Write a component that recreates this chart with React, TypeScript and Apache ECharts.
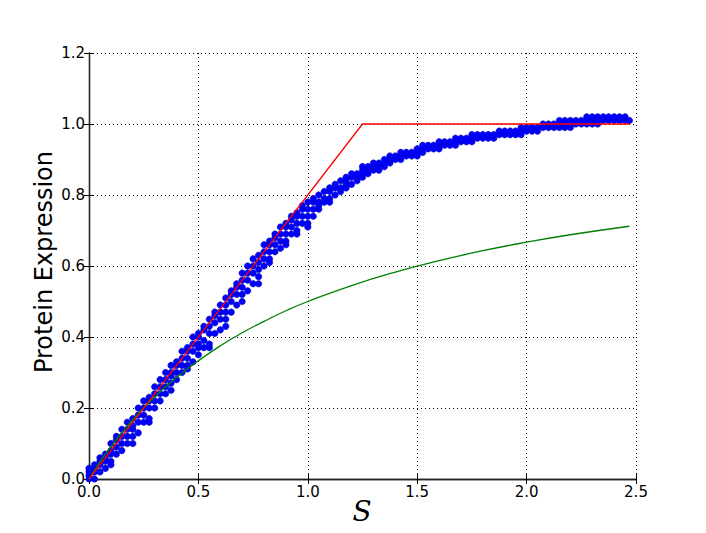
import React, { useEffect, useRef } from "react";
import * as echarts from "echarts";

// Measured points: S positions (columns) and protein-expression readings at each
const sVals = [
  0.0, 0.025, 0.05, 0.075, 0.1, 0.125, 0.15, 0.175, 0.2, 0.225,
  0.25, 0.275, 0.3, 0.325, 0.35, 0.375, 0.4, 0.425, 0.45, 0.475,
  0.5, 0.525, 0.55, 0.575, 0.6, 0.625, 0.65, 0.675, 0.7, 0.725,
  0.75, 0.775, 0.8, 0.825, 0.85, 0.875, 0.9, 0.925, 0.95, 0.975,
  1.0, 1.025, 1.05, 1.075, 1.1, 1.125, 1.15, 1.175, 1.2, 1.225,
  1.25, 1.275, 1.3, 1.325, 1.35, 1.375, 1.4, 1.425, 1.45, 1.475,
  1.5, 1.525, 1.55, 1.575, 1.6, 1.625, 1.65, 1.675, 1.7, 1.725,
  1.75, 1.775, 1.8, 1.825, 1.85, 1.875, 1.9, 1.925, 1.95, 1.975,
  2.0, 2.025, 2.05, 2.075, 2.1, 2.125, 2.15, 2.175, 2.2, 2.225,
  2.25, 2.275, 2.3, 2.325, 2.35, 2.375, 2.4, 2.425, 2.45, 2.47,
];

const ysByColumn = [
  [0.0, 0.01, 0.02, 0.03], [0.0, 0.02, 0.03, 0.04], [0.02, 0.04, 0.05, 0.06], [0.03, 0.05, 0.06, 0.07],
  [0.04, 0.05, 0.07, 0.08, 0.1], [0.07, 0.09, 0.11, 0.12], [0.08, 0.1, 0.12, 0.14], [0.1, 0.12, 0.14, 0.16],
  [0.1, 0.12, 0.14, 0.15, 0.17], [0.13, 0.16, 0.18, 0.2], [0.16, 0.18, 0.2, 0.22], [0.16, 0.17, 0.2, 0.22, 0.23],
  [0.2, 0.22, 0.24, 0.26], [0.22, 0.24, 0.26, 0.28], [0.24, 0.26, 0.28, 0.3], [0.25, 0.27, 0.29, 0.3, 0.32],
  [0.28, 0.3, 0.32, 0.33], [0.3, 0.32, 0.34, 0.36], [0.31, 0.32, 0.34, 0.36, 0.37], [0.33, 0.36, 0.38, 0.4],
  [0.35, 0.37, 0.38, 0.4, 0.41], [0.37, 0.39, 0.42, 0.43], [0.37, 0.38, 0.41, 0.43, 0.45], [0.41, 0.44, 0.46, 0.47],
  [0.42, 0.45, 0.47, 0.49], [0.43, 0.45, 0.47, 0.49, 0.51], [0.47, 0.5, 0.52, 0.53], [0.49, 0.52, 0.54, 0.55],
  [0.5, 0.52, 0.54, 0.56, 0.58], [0.53, 0.56, 0.58, 0.6], [0.55, 0.58, 0.6, 0.62], [0.55, 0.57, 0.59, 0.61, 0.63],
  [0.6, 0.62, 0.64, 0.66], [0.61, 0.62, 0.64, 0.66, 0.67], [0.64, 0.66, 0.68, 0.69], [0.65, 0.67, 0.69, 0.71],
  [0.66, 0.67, 0.69, 0.71, 0.72], [0.69, 0.71, 0.73, 0.74], [0.69, 0.7, 0.72, 0.74, 0.75], [0.72, 0.74, 0.76, 0.77],
  [0.71, 0.72, 0.74, 0.76, 0.78], [0.74, 0.76, 0.78, 0.79], [0.76, 0.77, 0.78, 0.8], [0.78, 0.79, 0.81],
  [0.78, 0.79, 0.81, 0.82], [0.8, 0.82, 0.83], [0.81, 0.82, 0.84], [0.82, 0.83, 0.84, 0.85],
  [0.83, 0.85, 0.86], [0.84, 0.85, 0.86], [0.85, 0.86, 0.87, 0.88], [0.86, 0.87, 0.88],
  [0.87, 0.88, 0.89], [0.87, 0.88, 0.89], [0.88, 0.89, 0.9], [0.89, 0.9, 0.91],
  [0.9, 0.91], [0.9, 0.91, 0.92], [0.91, 0.92], [0.91, 0.92],
  [0.91, 0.92, 0.93], [0.92, 0.93, 0.94], [0.93, 0.94], [0.93, 0.94],
  [0.93, 0.94, 0.95], [0.94, 0.95], [0.94, 0.95], [0.94, 0.95, 0.96],
  [0.95, 0.96], [0.95, 0.96], [0.95, 0.96, 0.97], [0.96, 0.97],
  [0.96, 0.97], [0.96, 0.97], [0.96, 0.97], [0.97, 0.98],
  [0.97, 0.98], [0.97, 0.98], [0.97, 0.98], [0.97, 0.98, 0.99],
  [0.98, 0.99], [0.98, 0.99], [0.98, 0.99], [0.99, 1.0],
  [0.99, 1.0], [0.99, 1.0], [0.99, 1.0, 1.01], [0.99, 1.0, 1.01],
  [0.99, 1.0, 1.01], [1.0, 1.01], [1.0, 1.01], [1.0, 1.01, 1.02],
  [1.0, 1.01, 1.02], [1.0, 1.01, 1.02], [1.01, 1.02], [1.01, 1.02],
  [1.01, 1.02], [1.01, 1.02], [1.01, 1.02], [1.01],
];

// Red piecewise-linear model
const redS = [0.0, 1.25, 2.47];
const redY = [0.0, 1.0, 1.0];

// Green saturating curve
const greenS = [0.0, 0.05, 0.1, 0.2, 0.3, 0.4, 0.5, 0.6, 0.7, 0.8, 0.9, 1.0, 1.2, 1.4, 1.6, 1.8, 2.0, 2.2, 2.47];
const greenY = [0.0, 0.048, 0.091, 0.167, 0.231, 0.286, 0.333, 0.375, 0.412, 0.444, 0.474, 0.5, 0.545, 0.583, 0.615, 0.643, 0.667, 0.688, 0.712];

const xTicks = ["0.0", "0.5", "1.0", "1.5", "2.0", "2.5"];
const yTicks = ["0.0", "0.2", "0.4", "0.6", "0.8", "1.0", "1.2"];

export default function App() {
  const ref = useRef<HTMLDivElement>(null);
  useEffect(() => {
    if (!ref.current) return;
    const chart = echarts.init(ref.current, null, { renderer: "svg" });
    const scatterData: number[][] = [];
    sVals.forEach((s, i) => ysByColumn[i].forEach((y) => scatterData.push([s, y])));
    const font = "DejaVu Sans";
    const tickStyle = { show: true, inside: true, length: 5, lineStyle: { color: "#000", width: 1 } };
    const axisLineStyle = { show: true, lineStyle: { color: "#222", width: 1.3 } };
    const gridLine = { show: true, lineStyle: { color: "#000", type: [1, 3], width: 1 } };
    chart.setOption({
      animation: false,
      backgroundColor: "#fff",
      grid: { left: 89, top: 53, right: 70, bottom: 54, containLabel: false },
      xAxis: [
        {
          type: "value", min: 0, max: 2.5, interval: 0.5, position: "bottom",
          axisLine: axisLineStyle, axisTick: tickStyle, splitLine: gridLine,
          axisLabel: { color: "#000", fontFamily: font, fontSize: 15, margin: 5, formatter: (v: number) => xTicks[Math.round(v / 0.5)] },
        },
        {
          type: "value", min: 0, max: 2.5, interval: 0.5, position: "top",
          axisLine: axisLineStyle, axisTick: tickStyle, splitLine: { show: false }, axisLabel: { show: false },
        },
      ],
      yAxis: [
        {
          type: "value", min: 0, max: 1.2, interval: 0.2, position: "left",
          axisLine: axisLineStyle, axisTick: tickStyle, splitLine: gridLine,
          axisLabel: { color: "#000", fontFamily: font, fontSize: 15, margin: 4, formatter: (v: number) => yTicks[Math.round(v / 0.2)] },
        },
        {
          type: "value", min: 0, max: 1.2, interval: 0.2, position: "right",
          axisLine: axisLineStyle, axisTick: tickStyle, splitLine: { show: false }, axisLabel: { show: false },
        },
      ],
      series: [
        {
          type: "scatter", data: scatterData, symbolSize: 6.5,
          itemStyle: { color: "#0000ff", borderColor: "#0000b0", borderWidth: 0.5, opacity: 1 },
          z: 2,
        },
        {
          type: "line", data: greenS.map((s, i) => [s, greenY[i]]), smooth: true, showSymbol: false,
          lineStyle: { color: "#008000", width: 1.3 }, z: 3,
        },
        {
          type: "line", data: redS.map((s, i) => [s, redY[i]]), showSymbol: false,
          lineStyle: { color: "#ff0000", width: 1.3 }, z: 4,
        },
      ],
      graphic: [
        {
          type: "text", x: 44, y: 262, rotation: Math.PI / 2,
          style: { text: "Protein Expression", font: "24px DejaVu Sans", fill: "#000", textAlign: "center", textVerticalAlign: "middle" },
        },
        {
          type: "text", x: 362, y: 511,
          style: { text: "S", font: "italic 28px 'DejaVu Serif'", fill: "#000", textAlign: "center", textVerticalAlign: "middle" },
        },
      ],
    });
    return () => chart.dispose();
  }, []);
  return <div ref={ref} style={{ position: "fixed", left: 0, top: 0, width: 706, height: 533 }} />;
}
